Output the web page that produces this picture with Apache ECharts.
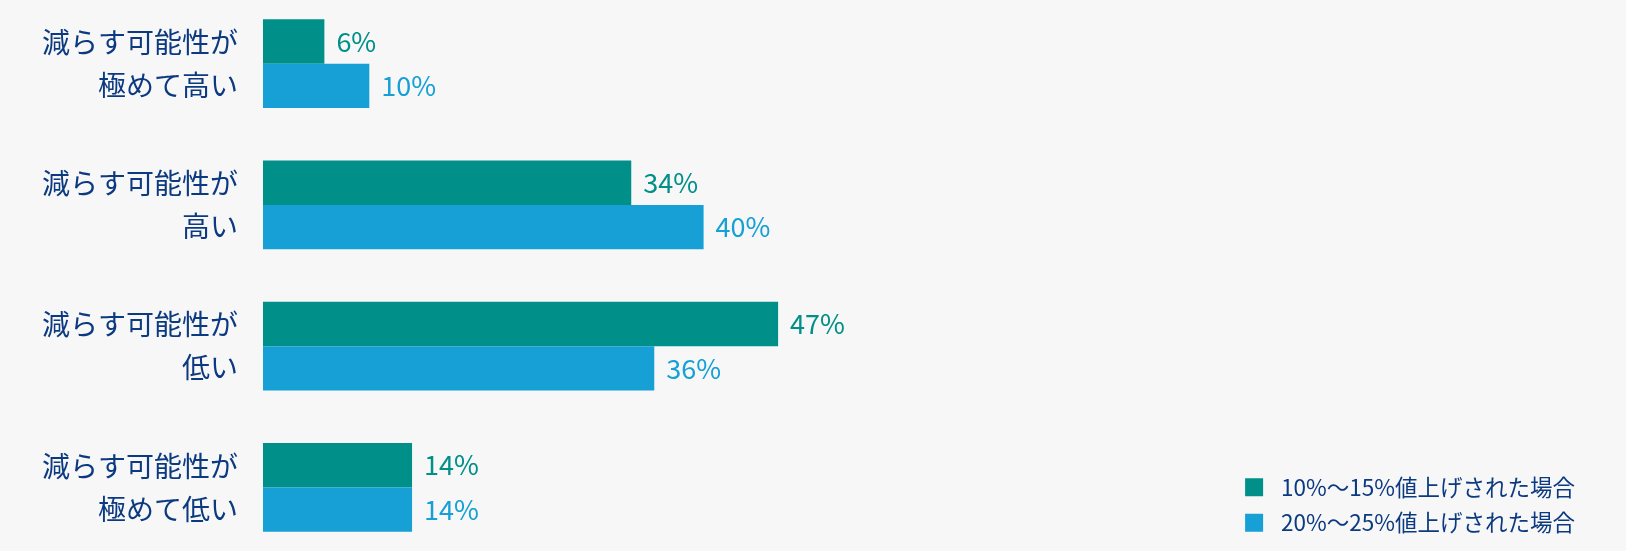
<!DOCTYPE html>
<html><head><meta charset="utf-8">
<script src="https://cdn.jsdelivr.net/npm/echarts@6/dist/echarts.min.js"></script>
<style>html,body{margin:0;padding:0;background:#f7f7f7;overflow:hidden;width:1626px;height:551px;position:relative}#c{position:absolute;left:0;top:-7px;width:1626px;height:565px}</style>
</head><body><div id="c"></div>
<script>
const categories = ['減らす可能性が\n極めて高い', '減らす可能性が\n高い', '減らす可能性が\n低い', '減らす可能性が\n極めて低い'];
const seriesNames = ['10%～15%値上げされた場合', '20%～25%値上げされた場合'];
const values1 = [5.6, 33.6, 47.0, 13.6];
const values2 = [9.7, 40.2, 35.7, 13.6];
const colors = ['#009089', '#16a0d6'];
const font = '"Noto Sans CJK JP", "Noto Sans", sans-serif';

const chart = echarts.init(document.getElementById('c'));
function mkSeries(name, data, color) {
  return {
    name, type: 'bar', data, barGap: '0%', barCategoryGap: '37%',
    itemStyle: { color },
    label: { show: true, position: 'right', distance: 12, color, fontSize: 27, fontFamily: font,
      formatter: p => Math.round(p.value) + '%' }
  };
}
chart.setOption({
  backgroundColor: '#f7f7f7',
  animation: false,
  grid: { left: 263, right: 267, top: 0, bottom: 0, containLabel: false },
  xAxis: { type: 'value', min: 0, max: 100, show: false },
  yAxis: { type: 'category', data: categories, inverse: true,
    axisLine: { show: false }, axisTick: { show: false },
    axisLabel: { margin: 25, color: '#0c3a80', fontSize: 28, fontFamily: font, lineHeight: 43, align: 'right', padding: [5, 0, 0, 0] } },
  legend: { orient: 'vertical', right: 46, bottom: 19, itemWidth: 18, itemHeight: 18, itemGap: 13,
    icon: 'rect', textStyle: { color: '#0c3a80', fontSize: 22.5, fontFamily: font, padding: [0, 0, 0, 13] },
    data: seriesNames },
  series: [mkSeries(seriesNames[0], values1, colors[0]), mkSeries(seriesNames[1], values2, colors[1])]
});
</script></body></html>
